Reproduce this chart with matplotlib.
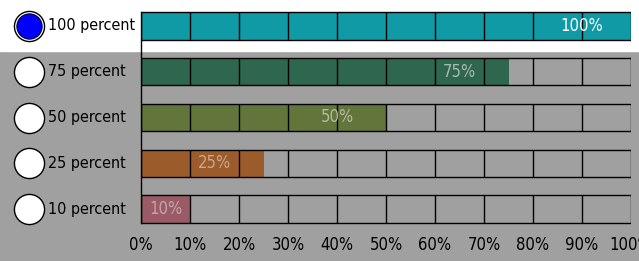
import matplotlib.pyplot as plt
import matplotlib.transforms as mtransforms
from matplotlib.patches import Rectangle

plt.rcParams['font.family'] = ['DejaVu Sans']
plt.rcParams['font.stretch'] = 'condensed'

# Progress rows
labels = ['100 percent', '75 percent', '50 percent', '25 percent', '10 percent']
values = [100, 75, 50, 25, 10]
colors = ['#0f9aa6', '#2f6650', '#62753a', '#9b5b2b', '#9a5b66']
text_colors = ['#ffffff', '#a9b9b0', '#b4bca4', '#caa88e', '#c4a4aa']
selected = 0
ticks = [0, 10, 20, 30, 40, 50, 60, 70, 80, 90, 100]

fig = plt.figure(figsize=(6.39, 2.61), dpi=100, facecolor='#a0a0a0')
# white band behind the selected row
band = Rectangle((0, (261 - 51) / 261), 1, 51 / 261,
                 transform=fig.transFigure, color='white', zorder=-10)
fig.add_artist(band)

ax = fig.add_axes([141 / 639, (261 - 232) / 261, 490 / 639, 229 / 261])
ax.set_facecolor('none')

y = list(range(len(values)))
h = 0.6

ax.barh(y, values, height=h, color=colors, edgecolor='none', zorder=2)
ax.barh(y, [100] * len(values), height=h, color='none', edgecolor='black', lw=1, zorder=3)
for yi in y:
    ax.vlines(ticks[1:-1], yi - h / 2, yi + h / 2, color='black', lw=1, zorder=3)

for yi, v, tc in zip(y, values, text_colors):
    pos = v - 10 if v >= 20 else v / 2
    ax.text(pos, yi, f'{v}%', ha='center', va='center', color=tc,
            fontsize=12, zorder=4)

ax.set_xlim(0, 100)
ax.set_ylim(len(values) - 0.5, -0.5)
ax.set_xticks(ticks)
ax.set_xticklabels([f'{t}%' for t in ticks], fontsize=12)
ax.set_yticks([])
ax.tick_params(axis='x', length=0, pad=3)
for s in ['top', 'right', 'bottom']:
    ax.spines[s].set_visible(False)
ax.spines['left'].set_bounds(-h / 2, len(values) - 1 + h / 2)
ax.spines['left'].set_linewidth(1)

# radio buttons and row labels
trans = mtransforms.blended_transform_factory(fig.transFigure, ax.transData)
for i, (yi, lab) in enumerate(zip(y, labels)):
    ax.scatter([29 / 639], [yi], s=470, marker='o', color='white',
               edgecolor='black', lw=1, transform=trans, clip_on=False, zorder=5)
    if i == selected:
        ax.scatter([29 / 639], [yi], s=330, marker='o', color='#0000ff',
                   edgecolor='#000033', lw=0.8, transform=trans, clip_on=False, zorder=6)
    ax.text(48 / 639, yi, lab, transform=trans, ha='left', va='center',
            fontsize=11.5, color='black')

fig.savefig('out.png', dpi=100, facecolor=fig.get_facecolor())
